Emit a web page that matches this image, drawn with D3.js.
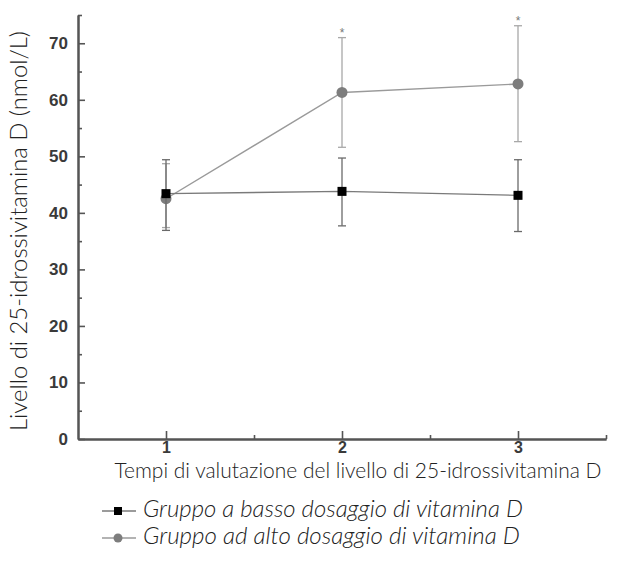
<!DOCTYPE html>
<html>
<head>
<meta charset="utf-8">
<script src="https://cdn.jsdelivr.net/npm/d3@7"></script>
<style>
  html, body { margin: 0; padding: 0; background: #ffffff; }
  svg { display: block; }
</style>
</head>
<body>
<svg id="chart" width="619" height="574"></svg>
<script>
// ---- data ----
const times = [1, 2, 3];
const xTickLabels = ["1", "2", "3"];
const yTickValues = [0, 10, 20, 30, 40, 50, 60, 70];
const lowMean  = [43.4, 43.8, 43.1];
const lowUpper = [49.4, 49.7, 49.4];
const lowLower = [36.9, 37.7, 36.7];
const highMean  = [42.5, 61.3, 62.8];
const highUpper = [48.7, 71.0, 73.1];
const highLower = [37.4, 51.6, 52.6];
const significant = [false, true, true];
const seriesNames = ["Gruppo a basso dosaggio di vitamina D", "Gruppo ad alto dosaggio di vitamina D"];
const yTitle = "Livello di 25-idrossivitamina D (nmol/L)";
const xTitle = "Tempi di valutazione del livello di 25-idrossivitamina D";

const svg = d3.select("#chart");
const x = d3.scaleLinear().domain([0.5, 3.5]).range([78, 606]);
const y = d3.scaleLinear().domain([0, 75]).range([439, 15]);

const axisColor = "#555";
const lightFont = "'Lato', 'Open Sans', 'DejaVu Sans', sans-serif";
const numFont = "'Liberation Sans', Arial, sans-serif";

function styleAxis(g) {
  g.select(".domain").attr("stroke", axisColor).attr("stroke-width", 2);
  g.selectAll(".tick line").attr("stroke", axisColor).attr("stroke-width", 1.6);
  g.selectAll(".tick text").attr("fill", "#3a3a3a").style("font-family", numFont).style("font-weight", "bold");
}

// y axis minor ticks
svg.append("g").attr("transform", "translate(78,0)")
  .call(d3.axisLeft(y).tickValues([5, 15, 25, 35, 45, 55, 65, 75]).tickSizeInner(-4).tickSizeOuter(0).tickFormat(""))
  .call(styleAxis);
// y axis major
svg.append("g").attr("transform", "translate(78,0)")
  .call(d3.axisLeft(y).tickValues(yTickValues).tickSizeInner(-7).tickSizeOuter(0).tickPadding(10))
  .call(styleAxis)
  .call(g => g.selectAll(".tick text").style("font-size", "17px"));

// x axis minor
svg.append("g").attr("transform", "translate(0,439)")
  .call(d3.axisBottom(x).tickValues([1.5, 2.5, 3.5]).tickSizeInner(-4).tickSizeOuter(0).tickFormat(""))
  .call(styleAxis);
// x axis major
svg.append("g").attr("transform", "translate(0,439)")
  .call(d3.axisBottom(x).tickValues(times).tickSizeInner(-8).tickSizeOuter(0).tickPadding(3).tickFormat((d, i) => xTickLabels[i]))
  .call(styleAxis)
  .call(g => g.selectAll(".tick text").style("font-size", "16px"));

// ---- series ----
function drawSeries(mean, upper, lower, lineColor, errColor, marker, markerColor) {
  const g = svg.append("g");
  g.append("path")
    .datum(times.map((t, i) => [t, mean[i]]))
    .attr("fill", "none").attr("stroke", lineColor).attr("stroke-width", 1.4)
    .attr("d", d3.line().x(d => x(d[0])).y(d => y(d[1])));
  times.forEach((t, i) => {
    const cx = x(t);
    g.append("line").attr("x1", cx).attr("x2", cx).attr("y1", y(upper[i])).attr("y2", y(lower[i]))
      .attr("stroke", errColor).attr("stroke-width", 1.3);
    [upper[i], lower[i]].forEach(v => {
      g.append("line").attr("x1", cx - 4).attr("x2", cx + 4).attr("y1", y(v)).attr("y2", y(v))
        .attr("stroke", errColor).attr("stroke-width", 1.3);
    });
  });
  times.forEach((t, i) => {
    if (marker === "square") {
      g.append("rect").attr("x", x(t) - 4.5).attr("y", y(mean[i]) - 4.5).attr("width", 9).attr("height", 9)
        .attr("fill", markerColor);
    } else {
      g.append("circle").attr("cx", x(t)).attr("cy", y(mean[i])).attr("r", 5.5).attr("fill", markerColor);
    }
  });
}
drawSeries(highMean, highUpper, highLower, "#9a9a9a", "#a8a8a8", "circle", "#7d7d7d");
drawSeries(lowMean, lowUpper, lowLower, "#7a7a7a", "#6a6a6a", "square", "#000");

// significance asterisks
times.forEach((t, i) => {
  if (significant[i]) {
    svg.append("text").attr("x", x(t)).attr("y", y(highUpper[i]) - 1)
      .attr("text-anchor", "middle").attr("font-family", numFont).attr("font-size", 12)
      .attr("fill", "#777").text("*");
  }
});

function fit(sel, target) {
  const w = sel.node().getComputedTextLength();
  const fs = parseFloat(sel.attr("font-size"));
  if (w > 0) sel.attr("font-size", (fs * target / w).toFixed(2));
}

// axis titles
const yt = svg.append("text")
  .attr("transform", "translate(27,231) rotate(-90)")
  .attr("text-anchor", "middle").attr("font-family", lightFont).attr("font-weight", 300)
  .attr("font-size", 20).attr("fill", "#222").text(yTitle);
fit(yt, 400);

const xt = svg.append("text")
  .attr("x", 358).attr("y", 478)
  .attr("text-anchor", "middle").attr("font-family", lightFont).attr("font-weight", 300)
  .attr("font-size", 20).attr("fill", "#222").text(xTitle);
fit(xt, 487);

// legend
const legendRows = [
  { name: seriesNames[0], marker: "square", color: "#000", line: "#7a7a7a", yy: 511 },
  { name: seriesNames[1], marker: "circle", color: "#7d7d7d", line: "#9a9a9a", yy: 538 }
];
legendRows.forEach(r => {
  svg.append("line").attr("x1", 102).attr("x2", 136).attr("y1", r.yy).attr("y2", r.yy)
    .attr("stroke", r.line).attr("stroke-width", 1.4);
  if (r.marker === "square") {
    svg.append("rect").attr("x", 118 - 4).attr("y", r.yy - 4).attr("width", 8).attr("height", 8).attr("fill", r.color);
  } else {
    svg.append("circle").attr("cx", 118).attr("cy", r.yy).attr("r", 4.5).attr("fill", r.color);
  }
  const t = svg.append("text").attr("x", 143).attr("y", r.yy + 6)
    .attr("font-family", lightFont).attr("font-weight", 300).attr("font-style", "italic")
    .attr("font-size", 18).attr("fill", "#222").text(r.name);
  fit(t, r.marker === "square" ? 380 : 377);
});
</script>
</body>
</html>
